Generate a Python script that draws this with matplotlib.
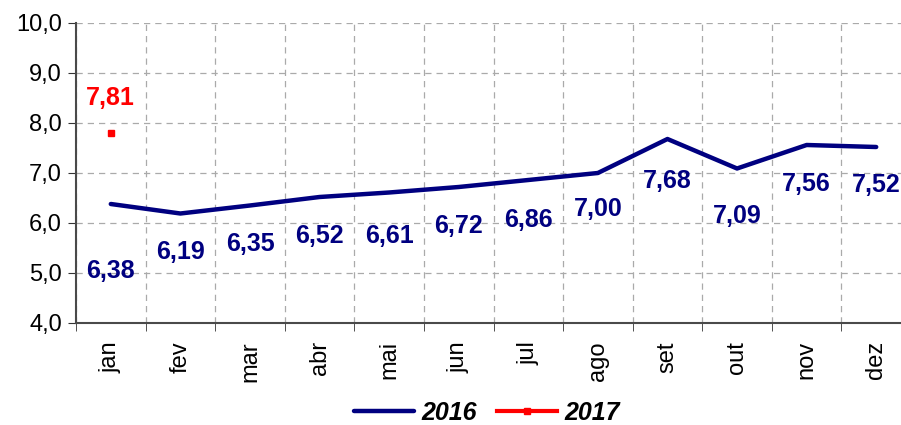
import matplotlib.pyplot as plt

plt.rcParams['font.family'] = ['Liberation Sans', 'DejaVu Sans']

meses = ['jan', 'fev', 'mar', 'abr', 'mai', 'jun', 'jul', 'ago', 'set', 'out', 'nov', 'dez']
v2016 = [6.38, 6.19, 6.35, 6.52, 6.61, 6.72, 6.86, 7.00, 7.68, 7.09, 7.56, 7.52]
v2017 = [7.81]
# label offsets below the line (points)
desl = [-48, -28, -28, -28, -31, -28, -29, -26, -30, -34, -28, -27]

fig = plt.figure(figsize=(9.01, 4.25), dpi=100)
ax = fig.add_axes([76/901, 1-323/425, 835/901, 300/425])

x = list(range(len(meses)))
ax.plot(x, v2016, color='#000080', lw=3.2, solid_capstyle='round', label='2016', zorder=3)
ax.plot(x[:len(v2017)], v2017, color='red', lw=3, marker='s', ms=5, label='2017', zorder=3)

for i, v in enumerate(v2016):
    ax.annotate(f'{v:.2f}'.replace('.', ','), (i, v), xytext=(0, desl[i]), textcoords='offset points',
                ha='center', va='center', fontsize=18, fontweight='bold', color='#000080')
for i, v in enumerate(v2017):
    ax.annotate(f'{v:.2f}'.replace('.', ','), (i, v), xytext=(0, 25), textcoords='offset points',
                ha='center', va='center', fontsize=18, fontweight='bold', color='red')

ax.set_xlim(-0.5, 11.5)
ax.set_ylim(4, 10)
ax.set_yticks(range(4, 11))
ax.set_yticklabels([f'{t},0' for t in range(4, 11)], fontsize=17)
ax.set_xticks(x)
ax.set_xticklabels(meses, rotation=90, fontsize=17)
ax.tick_params(axis='x', length=0, pad=13)
ax.set_xticks([i + 0.5 for i in range(-1, 12)], minor=True)
ax.tick_params(axis='x', which='minor', length=6, direction='out', color='#333333')
ax.tick_params(axis='y', length=6, direction='out', color='#333333', pad=4)

ax.grid(True, axis='y', which='major', ls=(0, (5, 4)), color='#aaaaaa', lw=0.9)
ax.grid(True, axis='x', which='minor', ls=(0, (5, 4)), color='#aaaaaa', lw=0.9)
ax.grid(False, axis='x', which='major')
for s in ['top', 'right']:
    ax.spines[s].set_visible(False)
for s in ['left', 'bottom']:
    ax.spines[s].set_color('#4a4a4a')
    ax.spines[s].set_linewidth(1.5)

leg = fig.legend(loc='center', bbox_to_anchor=(487/901, 1-413/425), ncol=2, frameon=False,
                 prop={'weight': 'bold', 'style': 'italic', 'size': 18}, handlelength=2.4,
                 columnspacing=0.8, handletextpad=0.3)

fig.savefig('out.png', dpi=100)
